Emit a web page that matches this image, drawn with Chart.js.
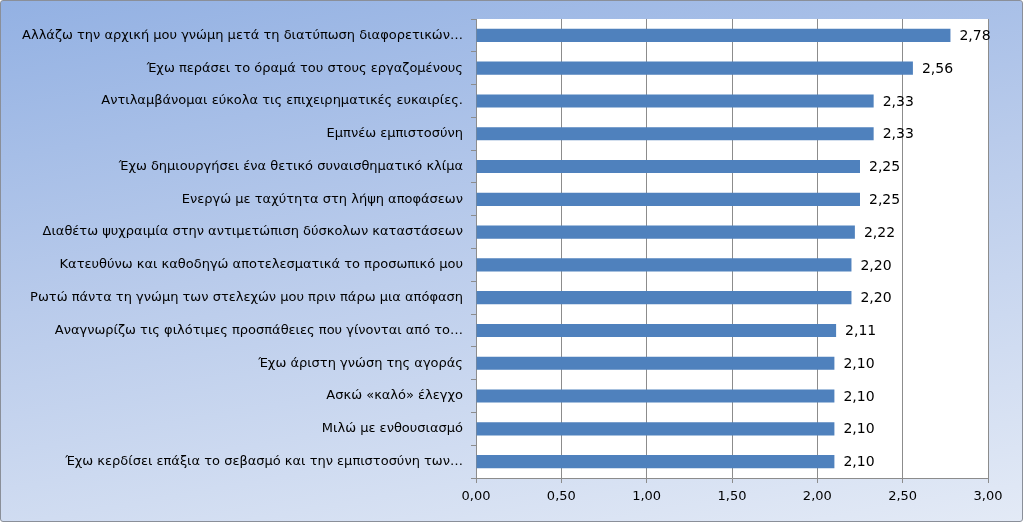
<!DOCTYPE html>
<html>
<head>
<meta charset="utf-8">
<script src="https://cdn.jsdelivr.net/npm/chart.js@4/dist/chart.umd.min.js"></script>
<style>
  html, body { margin: 0; padding: 0; }
  #wrap {
    width: 1023px; height: 522px; box-sizing: border-box;
    border: 1px solid #8a8f99; border-radius: 3px;
    background: linear-gradient(170deg, #93b1e3 0%, #b9cbeb 45%, #e3eaf6 100%);
  }
  #wrap canvas { display: block; }
</style>
</head>
<body>
<div id="wrap"><canvas id="myChart" width="1021" height="520"></canvas></div>
<script>
const categories = [
  'Αλλάζω την αρχική μου γνώμη μετά τη διατύπωση διαφορετικών…',
  'Έχω περάσει το όραμά του στους εργαζομένους',
  'Αντιλαμβάνομαι εύκολα τις επιχειρηματικές ευκαιρίες.',
  'Εμπνέω εμπιστοσύνη',
  'Έχω δημιουργήσει ένα θετικό συναισθηματικό κλίμα',
  'Ενεργώ με ταχύτητα στη λήψη αποφάσεων',
  'Διαθέτω ψυχραιμία στην αντιμετώπιση δύσκολων καταστάσεων',
  'Κατευθύνω και καθοδηγώ αποτελεσματικά το προσωπικό μου',
  'Ρωτώ πάντα τη γνώμη των στελεχών μου πριν πάρω μια απόφαση',
  'Αναγνωρίζω τις φιλότιμες προσπάθειες που γίνονται από το…',
  'Έχω άριστη γνώση της αγοράς',
  'Ασκώ «καλό» έλεγχο',
  'Μιλώ με ενθουσιασμό',
  'Έχω κερδίσει επάξια το σεβασμό και την εμπιστοσύνη των…'
];
const scores = [2.78, 2.56, 2.33, 2.33, 2.25, 2.25, 2.22, 2.20, 2.20, 2.11, 2.10, 2.10, 2.10, 2.10];
const xMin = 0;
const xMax = 3;
const xStep = 0.5;

const fmt = (v) => v.toFixed(2).replace('.', ',');

// white plot area behind the bars
const plotBg = {
  id: 'plotBg',
  beforeDraw(chart) {
    const { ctx, chartArea: a } = chart;
    ctx.save();
    ctx.fillStyle = '#ffffff';
    ctx.fillRect(a.left, a.top, a.right - a.left, a.bottom - a.top);
    ctx.restore();
  }
};

// value labels at the end of each bar
const valueLabels = {
  id: 'valueLabels',
  afterDatasetsDraw(chart) {
    const { ctx } = chart;
    const meta = chart.getDatasetMeta(0);
    ctx.save();
    ctx.font = '14px "DejaVu Sans", sans-serif';
    ctx.fillStyle = '#000';
    ctx.textBaseline = 'middle';
    ctx.textAlign = 'left';
    meta.data.forEach((bar, i) => {
      ctx.fillText(fmt(scores[i]), bar.x + 9, bar.y + 1);
    });
    ctx.restore();
  }
};

const ctx = document.getElementById('myChart').getContext('2d');
new Chart(ctx, {
  type: 'bar',
  data: {
    labels: categories,
    datasets: [{
      data: scores,
      backgroundColor: '#4f81bd',
      borderWidth: 0,
      barPercentage: 0.4,
      categoryPercentage: 1
    }]
  },
  options: {
    indexAxis: 'y',
    responsive: false,
    animation: false,
    layout: { padding: { top: 18, right: 34, bottom: 0, left: 0 } },
    plugins: { legend: { display: false }, tooltip: { enabled: false } },
    scales: {
      x: {
        min: xMin, max: xMax,
        ticks: {
          stepSize: xStep,
          color: '#000',
          font: { family: '"DejaVu Sans", sans-serif', size: 13 },
          padding: 6,
          callback: (v) => fmt(v)
        },
        grid: { color: '#8c8c8c', tickLength: 5, drawTicks: true },
        border: { color: '#8c8c8c' },
        afterFit(s) { s.height = 43; }
      },
      y: {
        ticks: {
          color: '#000',
          font: { family: '"DejaVu Sans", sans-serif', size: 13 },
          padding: 8
        },
        grid: { drawOnChartArea: false, tickLength: 5, color: '#8c8c8c', offset: true },
        border: { color: '#8c8c8c' },
        afterFit(s) { s.width = 475; }
      }
    }
  },
  plugins: [plotBg, valueLabels]
});
</script>
</body>
</html>
